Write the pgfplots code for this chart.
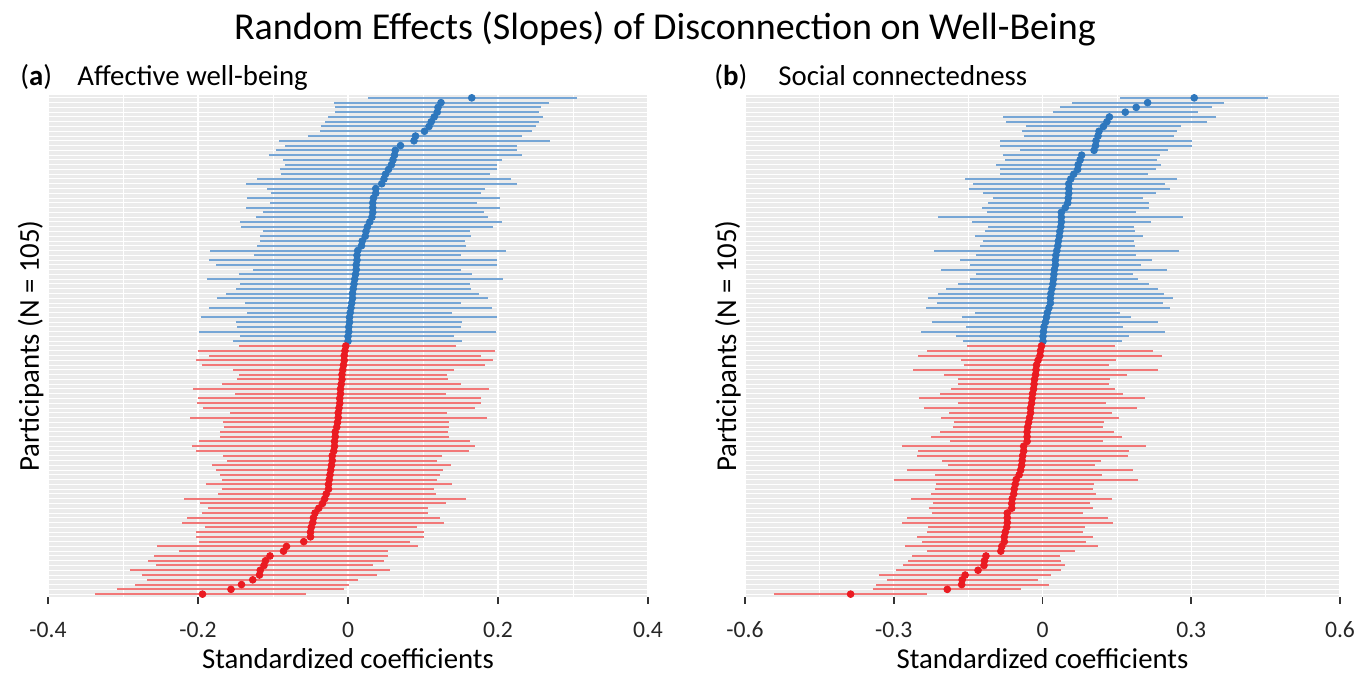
\documentclass[border=0pt]{standalone}
\usepackage{pgfplots}
\usepackage{pgfplotstable}
\pgfplotsset{compat=1.18}
\usepackage{fontspec}
\setmainfont{Carlito}

\definecolor{panelbg}{HTML}{EBEBEB}
\definecolor{posline}{HTML}{76A6D6}
\definecolor{posdot}{HTML}{2E77BD}
\definecolor{negline}{HTML}{F27878}
\definecolor{negdot}{HTML}{EA1B22}

% y = row position (105 = top), est = slope, lo/hi = interval
\pgfplotstableread{
y est lo hi
105 0.165 0.026 0.305
104 0.124 -0.019 0.268
103 0.120 -0.017 0.257
102 0.119 -0.017 0.255
101 0.115 -0.027 0.260
100 0.111 -0.031 0.255
99 0.108 -0.036 0.251
98 0.102 -0.038 0.245
97 0.090 -0.053 0.232
96 0.088 -0.092 0.269
95 0.070 -0.084 0.225
94 0.063 -0.096 0.225
93 0.062 -0.106 0.232
92 0.060 -0.087 0.205
91 0.058 -0.084 0.198
90 0.054 -0.091 0.198
89 0.050 -0.089 0.189
88 0.048 -0.122 0.217
87 0.045 -0.136 0.225
86 0.037 -0.108 0.182
85 0.037 -0.103 0.177
84 0.034 -0.135 0.203
83 0.033 -0.104 0.172
82 0.033 -0.136 0.203
81 0.033 -0.114 0.181
80 0.032 -0.123 0.187
79 0.029 -0.144 0.205
78 0.026 -0.143 0.193
77 0.024 -0.114 0.162
76 0.023 -0.117 0.164
75 0.019 -0.118 0.156
74 0.018 -0.122 0.157
73 0.013 -0.184 0.211
72 0.012 -0.126 0.150
71 0.012 -0.185 0.199
70 0.011 -0.176 0.199
69 0.011 -0.127 0.151
68 0.010 -0.146 0.165
67 0.009 -0.188 0.207
66 0.008 -0.144 0.162
65 0.007 -0.150 0.164
64 0.006 -0.163 0.174
63 0.006 -0.175 0.187
62 0.005 -0.138 0.150
61 0.004 -0.185 0.192
60 0.003 -0.135 0.139
59 0.002 -0.196 0.199
58 0.002 -0.150 0.152
57 0.001 -0.148 0.151
56 0.001 -0.198 0.197
55 0.000 -0.144 0.141
54 0.000 -0.154 0.152
}\affpos

\pgfplotstableread{
y est lo hi
53 -0.003 -0.146 0.144
52 -0.004 -0.200 0.196
51 -0.005 -0.185 0.177
50 -0.005 -0.202 0.193
49 -0.006 -0.194 0.183
48 -0.007 -0.154 0.141
47 -0.008 -0.146 0.132
46 -0.008 -0.148 0.133
45 -0.009 -0.168 0.151
44 -0.010 -0.207 0.188
43 -0.010 -0.151 0.130
42 -0.011 -0.200 0.177
41 -0.011 -0.201 0.177
40 -0.012 -0.193 0.169
39 -0.013 -0.158 0.132
38 -0.013 -0.211 0.185
37 -0.014 -0.166 0.135
36 -0.015 -0.165 0.135
35 -0.017 -0.170 0.133
34 -0.017 -0.170 0.134
33 -0.018 -0.198 0.163
32 -0.018 -0.208 0.169
31 -0.019 -0.202 0.161
30 -0.021 -0.166 0.125
29 -0.021 -0.161 0.118
28 -0.022 -0.181 0.137
27 -0.023 -0.176 0.127
26 -0.024 -0.171 0.123
25 -0.025 -0.168 0.118
24 -0.026 -0.189 0.138
23 -0.026 -0.168 0.115
22 -0.029 -0.173 0.117
21 -0.031 -0.219 0.157
20 -0.034 -0.197 0.130
19 -0.039 -0.186 0.106
18 -0.044 -0.194 0.107
17 -0.046 -0.214 0.123
16 -0.047 -0.221 0.128
15 -0.049 -0.190 0.092
14 -0.050 -0.202 0.101
13 -0.050 -0.202 0.101
12 -0.059 -0.198 0.082
11 -0.082 -0.254 0.093
10 -0.086 -0.225 0.053
9 -0.104 -0.259 0.053
8 -0.110 -0.267 0.048
7 -0.112 -0.256 0.033
6 -0.117 -0.291 0.056
5 -0.118 -0.274 0.038
4 -0.127 -0.268 0.013
3 -0.142 -0.284 0.001
2 -0.156 -0.308 -0.006
1 -0.194 -0.337 -0.056
}\affneg

\pgfplotstableread{
y est lo hi
105 0.306 0.157 0.454
104 0.212 0.059 0.367
103 0.189 0.035 0.342
102 0.167 0.021 0.313
101 0.135 -0.079 0.350
100 0.130 -0.073 0.332
99 0.123 -0.033 0.279
98 0.114 -0.041 0.271
97 0.112 -0.038 0.265
96 0.108 -0.086 0.301
95 0.107 -0.085 0.301
94 0.104 -0.045 0.254
93 0.079 -0.079 0.237
92 0.076 -0.076 0.230
91 0.072 -0.094 0.238
90 0.071 -0.086 0.228
89 0.063 -0.086 0.212
88 0.057 -0.157 0.271
87 0.053 -0.140 0.247
86 0.053 -0.149 0.257
85 0.053 -0.120 0.228
84 0.052 -0.100 0.202
83 0.051 -0.110 0.214
82 0.046 -0.122 0.214
81 0.038 -0.112 0.189
80 0.038 -0.210 0.284
79 0.038 -0.143 0.218
78 0.037 -0.110 0.185
77 0.035 -0.115 0.186
76 0.034 -0.137 0.203
75 0.032 -0.121 0.185
74 0.031 -0.126 0.186
73 0.029 -0.218 0.275
72 0.027 -0.135 0.189
71 0.026 -0.167 0.220
70 0.026 -0.147 0.199
69 0.024 -0.204 0.251
68 0.023 -0.134 0.182
67 0.022 -0.147 0.192
66 0.021 -0.171 0.214
65 0.019 -0.194 0.233
64 0.017 -0.211 0.246
63 0.016 -0.230 0.263
62 0.016 -0.212 0.244
61 0.013 -0.234 0.258
60 0.010 -0.137 0.157
59 0.008 -0.163 0.179
58 0.006 -0.222 0.233
57 0.003 -0.155 0.163
56 0.002 -0.245 0.247
55 0.001 -0.174 0.175
54 0.001 -0.161 0.161
}\socpos

\pgfplotstableread{
y est lo hi
53 -0.002 -0.152 0.147
52 -0.004 -0.232 0.222
51 -0.005 -0.251 0.242
50 -0.009 -0.165 0.149
49 -0.012 -0.159 0.135
48 -0.013 -0.261 0.232
47 -0.014 -0.199 0.170
46 -0.016 -0.171 0.137
45 -0.017 -0.170 0.135
44 -0.018 -0.185 0.147
43 -0.020 -0.206 0.163
42 -0.021 -0.250 0.206
41 -0.022 -0.171 0.128
40 -0.024 -0.238 0.190
39 -0.024 -0.189 0.141
38 -0.026 -0.204 0.155
37 -0.028 -0.179 0.124
36 -0.030 -0.181 0.122
35 -0.031 -0.206 0.145
34 -0.031 -0.224 0.161
33 -0.031 -0.186 0.122
32 -0.038 -0.283 0.208
31 -0.038 -0.251 0.175
30 -0.040 -0.253 0.173
29 -0.041 -0.203 0.119
28 -0.042 -0.191 0.106
27 -0.044 -0.273 0.182
26 -0.047 -0.216 0.120
25 -0.053 -0.300 0.192
24 -0.055 -0.214 0.104
23 -0.057 -0.216 0.101
22 -0.058 -0.224 0.108
21 -0.061 -0.265 0.140
20 -0.062 -0.220 0.096
19 -0.062 -0.228 0.102
18 -0.071 -0.222 0.081
17 -0.071 -0.273 0.132
16 -0.071 -0.284 0.143
15 -0.072 -0.230 0.086
14 -0.075 -0.233 0.082
13 -0.077 -0.254 0.102
12 -0.077 -0.244 0.088
11 -0.082 -0.277 0.112
10 -0.084 -0.233 0.065
9 -0.114 -0.263 0.035
8 -0.117 -0.271 0.038
7 -0.118 -0.281 0.046
6 -0.130 -0.296 0.038
5 -0.156 -0.330 0.018
4 -0.162 -0.313 -0.009
3 -0.163 -0.336 0.013
2 -0.192 -0.342 -0.043
1 -0.387 -0.542 -0.232
}\socneg

\pgfplotsset{
  slopepanel/.style={
    scale only axis,
    height=251pt,
    ymin=0.4, ymax=105.6,
    axis background/.style={fill=panelbg},
    axis line style={draw=none},
    ytick={1,...,105}, yticklabels={},
    y tick style={draw=none},
    ymajorgrids=true,
    y grid style={white, line width=0.5pt},
    xmajorgrids=true, xminorgrids=true,
    major x grid style={white, line width=0.6pt},
    minor x grid style={white, line width=0.35pt},
    minor tick length=0pt,
    xtick pos=bottom, tick align=outside,
    major tick length=3.4pt,
    x tick style={black!80, line width=0.75pt},
    xticklabel style={font=\fontsize{11.8}{13}\selectfont, text=black!85, anchor=base, yshift=-17pt},
    xlabel style={font=\fontsize{14.4}{16}\selectfont, at={(axis description cs:0.5,0)}, anchor=base, yshift=-36pt},
    xlabel={Standardized coefficients},
    % the label is rotated, so yshift moves it to the left
    ylabel style={font=\fontsize{14.4}{16}\selectfont, at={(axis description cs:0,0.5)}, anchor=base, yshift=4.5pt},
    ylabel={Participants (N = 105)},
  },
  posci/.style={only marks, mark=*, mark size=1.7pt, color=posdot,
    error bars/.cd, x dir=both, x explicit, error mark=none,
    error bar style={line width=1pt, color=posline}},
  negci/.style={only marks, mark=*, mark size=1.7pt, color=negdot,
    error bars/.cd, x dir=both, x explicit, error mark=none,
    error bar style={line width=1pt, color=negline}},
}

\begin{document}
\begin{tikzpicture}
\path[use as bounding box] (0,0) rectangle (678.5pt,337pt);

\node[anchor=base, font=\fontsize{19}{22}\selectfont] at (332.5pt,317pt)
  {Random Effects (Slopes) of Disconnection on Well-Being};

\node[anchor=base west, font=\fontsize{14.4}{16}\selectfont, inner sep=0pt] at (10pt,294pt) {(\textbf{a})};
\node[anchor=base west, font=\fontsize{14.4}{16}\selectfont, inner sep=0pt] at (38.5pt,294pt) {Affective well-being};
\node[anchor=base west, font=\fontsize{14.4}{16}\selectfont, inner sep=0pt] at (357pt,294pt) {(\textbf{b})};
\node[anchor=base west, font=\fontsize{14.4}{16}\selectfont, inner sep=0pt] at (389pt,294pt) {Social connectedness};

\begin{axis}[slopepanel, at={(24pt,38.5pt)}, anchor=south west, width=300pt,
  xmin=-0.4, xmax=0.4,
  xtick={-0.4,-0.2,0,0.2,0.4}, xticklabels={-0.4,-0.2,0,0.2,0.4},
  minor xtick={-0.3,-0.1,0.1,0.3}]
\addplot[posci] table[x=est, y=y,
  x error plus expr=\thisrow{hi}-\thisrow{est},
  x error minus expr=\thisrow{est}-\thisrow{lo}] {\affpos};
\addplot[negci] table[x=est, y=y,
  x error plus expr=\thisrow{hi}-\thisrow{est},
  x error minus expr=\thisrow{est}-\thisrow{lo}] {\affneg};
\end{axis}

\begin{axis}[slopepanel, at={(372.5pt,38.5pt)}, anchor=south west, width=297.5pt,
  xmin=-0.6, xmax=0.6,
  xtick={-0.6,-0.3,0,0.3,0.6}, xticklabels={-0.6,-0.3,0,0.3,0.6},
  minor xtick={-0.45,-0.15,0.15,0.45}]
\addplot[posci] table[x=est, y=y,
  x error plus expr=\thisrow{hi}-\thisrow{est},
  x error minus expr=\thisrow{est}-\thisrow{lo}] {\socpos};
\addplot[negci] table[x=est, y=y,
  x error plus expr=\thisrow{hi}-\thisrow{est},
  x error minus expr=\thisrow{est}-\thisrow{lo}] {\socneg};
\end{axis}
\end{tikzpicture}
\end{document}
